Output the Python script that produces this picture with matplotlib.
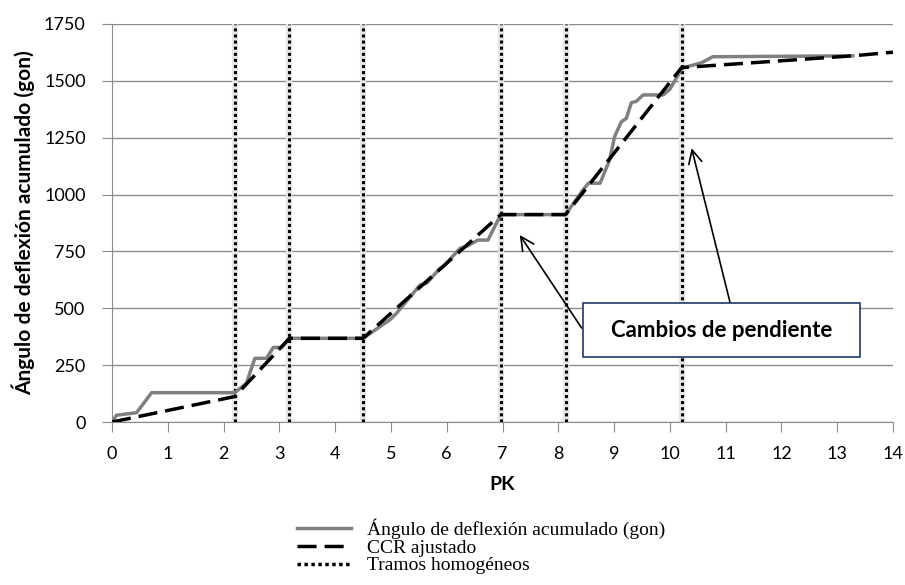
import numpy as np
import matplotlib.pyplot as plt
from matplotlib.patches import Rectangle

# Ángulo de deflexión acumulado (gon) vs PK
pk_obs = [0, 0.08, 0.44, 0.71, 2.2, 2.41, 2.56, 2.77, 2.89, 3.04, 3.18, 4.5, 4.8, 4.98, 5.1,
          5.52, 5.64, 5.88, 5.94, 6.24, 6.36, 6.56, 6.74, 6.86, 6.97, 8.13, 8.42, 8.54, 8.75,
          8.92, 9.01, 9.13, 9.22, 9.31, 9.4, 9.52, 9.88, 10.0, 10.15, 10.21, 10.57, 10.77, 13.28]
ang_obs = [0, 30, 41, 129, 129, 171, 280, 280, 328, 328, 368, 368, 419, 449, 478,
           602, 610, 676, 684, 764, 773, 800, 800, 859, 912, 912, 1013, 1050, 1050,
           1152, 1255, 1320, 1335, 1404, 1410, 1438, 1438, 1463, 1526, 1555, 1580, 1606, 1610]

# CCR ajustado
pk_ccr = [0, 2.2, 3.18, 4.5, 6.97, 8.13, 10.21, 13.28, 14]
ang_ccr = [0, 112, 368, 368, 912, 912, 1558, 1610, 1626]

# Tramos homogéneos
pk_tramos = [2.2, 3.18, 4.5, 6.97, 8.13, 10.21]

fig = plt.figure(figsize=(9.05, 5.85), dpi=100)
ax = fig.add_axes([0.1238, 0.2786, 0.8629, 0.6804])

sans = ['Lato', 'DejaVu Sans']

for x in pk_tramos:
    ax.axvline(x, color='#e6e6e6', lw=4.5, zorder=2)
    ax.axvline(x, color='black', lw=2.2, linestyle=(0, (1, 1)), zorder=3)

l1, = ax.plot(pk_obs, ang_obs, color='#808080', lw=2.5, zorder=4,
              label='Ángulo de deflexión acumulado (gon)')
l2, = ax.plot(pk_ccr, ang_ccr, color='black', lw=2.5, dashes=(5.5, 2.3), zorder=5,
              label='CCR ajustado')
l3, = ax.plot([], [], color='black', lw=2.5, linestyle=(0, (1, 1)), label='Tramos homogéneos')

ax.set_xlim(0, 14)
ax.set_ylim(0, 1750)
ax.set_xticks(np.arange(0, 15, 1))
ax.set_yticks(np.arange(0, 1751, 250))
ax.yaxis.grid(True, color='#8c8c8c', lw=1)
ax.set_axisbelow(True)
for s in ['top', 'right']:
    ax.spines[s].set_visible(False)
for s in ['left', 'bottom']:
    ax.spines[s].set_color('#8c8c8c')
ax.tick_params(axis='x', length=7, color='#8c8c8c', direction='out', pad=10)
ax.tick_params(axis='y', length=7, color='#8c8c8c', direction='out', pad=12)
for lab in ax.get_xticklabels() + ax.get_yticklabels():
    lab.set_family(sans)
    lab.set_fontsize(13)

ax.set_xlabel('PK', family=sans, fontsize=14, fontweight='bold', labelpad=10)
ax.set_ylabel('Ángulo de deflexión acumulado (gon)', family=sans, fontsize=15,
              fontweight='bold', labelpad=6)

# annotation box and arrows (box in pixel-derived axes fraction)
bx0, by0, bw, bh = (583 - 112) / 781, (422 - 357) / 398, 277 / 781, 54 / 398
ax.add_patch(Rectangle((bx0, by0), bw, bh, transform=ax.transAxes, facecolor='white',
                       edgecolor='#1f3864', lw=1.2, zorder=7))
ax.text(bx0 + bw / 2, by0 + bh / 2, 'Cambios de pendiente', transform=ax.transAxes,
        family=sans, fontsize=16, fontweight='bold', ha='center', va='center', zorder=8)
ax.annotate('', xy=(7.31, 822), xytext=(8.42, 413),
            arrowprops=dict(arrowstyle='->', color='black', lw=1.2, mutation_scale=24,
                            shrinkA=0, shrinkB=0), zorder=6)
ax.annotate('', xy=(10.39, 1204), xytext=(11.08, 525),
            arrowprops=dict(arrowstyle='->', color='black', lw=1.2, mutation_scale=24,
                            shrinkA=0, shrinkB=0), zorder=6)

fig.legend(handles=[l1, l2, l3], loc='upper left', bbox_to_anchor=(0.317, 0.13),
           frameon=False, prop={'family': 'Liberation Serif', 'size': 14},
           handlelength=2.8, labelspacing=0.0, borderpad=0, handletextpad=0.8)

fig.savefig('out.png', dpi=100)
